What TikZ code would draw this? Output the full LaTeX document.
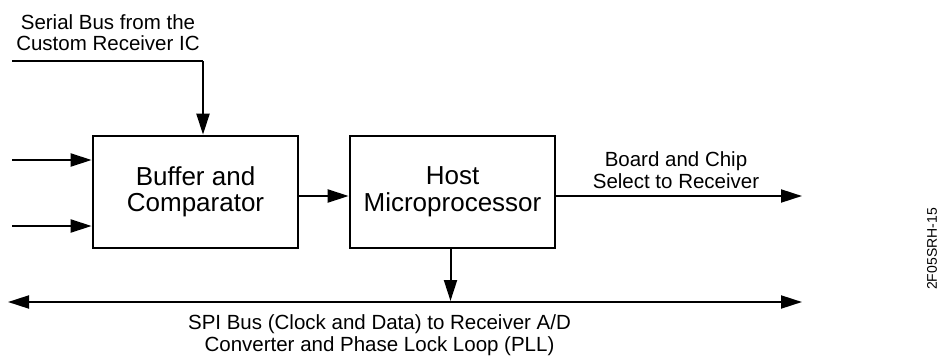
\documentclass[tikz,border=0pt]{standalone}
\usepackage{fontspec}
\setmainfont{Liberation Sans}
\usetikzlibrary{arrows.meta}
\begin{document}
\begin{tikzpicture}[x=1pt,y=-1pt,
  arr/.style={line width=2pt,-{Triangle[length=21pt,width=13pt]}},
  darr/.style={line width=2pt,{Triangle[length=21pt,width=13pt]}-{Triangle[length=21pt,width=13pt]}},
  blk/.style={draw,line width=2.7pt,minimum width=205pt,minimum height=112pt,inner sep=0pt,
    align=center,font=\fontsize{26}{26.5}\selectfont},
  lbl/.style={inner sep=0pt,align=center,font=\fontsize{20.5}{21.5}\selectfont},
]
\fill[white] (0,0) rectangle (942,356);
\useasboundingbox (0,0) rectangle (942,356);

\node[blk] (buf) at (195.5,192) {Buffer and\\Comparator};
\node[blk] (host) at (452.5,192) {Host\\Microprocessor};

\node[lbl] (serial) at (108,32.5) {Serial Bus from the\\Custom Receiver IC};
\node[lbl] (board) at (676,170) {Board and Chip\\Select to Receiver};
\node[lbl] (spi) at (379.5,335) {SPI Bus (Clock and Data) to Receiver A/D\\Converter and Phase Lock Loop (PLL)};
\node[inner sep=0pt,rotate=90,font=\fontsize{14}{14}\selectfont] (fig) at (932,249) {2F05SRH-15};

\coordinate (sb) at (12,61);
\coordinate (sbturn) at (203,61);
\coordinate (in1) at (12,160);
\coordinate (in2) at (12,226);
\coordinate (bcs) at (802,196);
\coordinate (busL) at (8,302);
\coordinate (busR) at (802,302);

\draw[line width=2pt] (sb) -- (sbturn);
\draw[arr] (sbturn) -- (sbturn |- buf.north);
\draw[arr] (in1) -- (in1 -| buf.west);
\draw[arr] (in2) -- (in2 -| buf.west);
\draw[arr] ([yshift=-4pt]buf.east) -- ([yshift=-4pt]host.west);
\draw[arr] ([yshift=-4pt]host.east) -- (bcs);
\draw[darr] (busL) -- (busR);
\draw[arr] ([xshift=-2pt]host.south) -- ([xshift=-2pt,yshift=1pt]busL -| host.south);
\end{tikzpicture}
\end{document}
